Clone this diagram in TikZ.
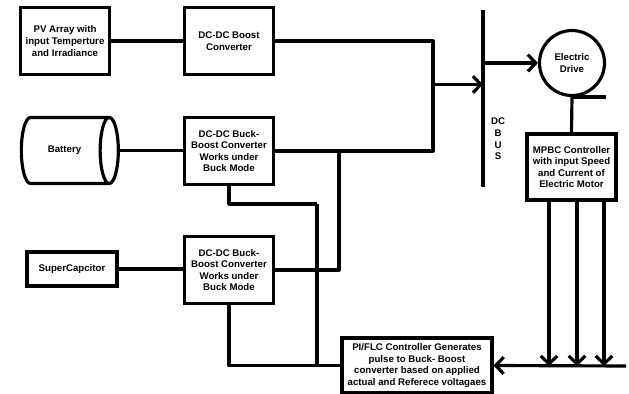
\documentclass[tikz,border=0pt]{standalone}
\usepackage{fontspec}
\setmainfont{Liberation Sans}
\usetikzlibrary{arrows.meta,shapes.geometric}
\tikzset{
  blockbox/.style={draw, line width=1.8pt, align=center, inner sep=0pt, font=\bfseries\fontsize{5.5}{6.6}\selectfont},
  wire/.style={line width=1.8pt, line join=round},
}

\begin{document}
\begin{tikzpicture}[x=0.02cm, y=-0.02cm, >={Straight Barb[length=4.5pt,width=9.5pt]}]
\useasboundingbox (0,0) rectangle (629,394);

% sources and their converters
\node[blockbox, minimum width=1.78cm, minimum height=1.34cm] (pv) at (65,41) {PV Array with\\input Temperture\\and Irradiance};
\node[blockbox, minimum width=1.78cm, minimum height=1.34cm] (boost) at (229,41) {DC-DC Boost\\Converter};
\node[blockbox, cylinder, aspect=2.1, minimum width=1.32cm, minimum height=1.94cm] (battery) at (64.5,150.5) {Battery};
\node[blockbox, minimum width=1.78cm, minimum height=1.34cm] (buckone) at (229,151) {DC-DC Buck-\\Boost Converter\\Works under\\Buck Mode};
\node[blockbox, minimum width=1.8cm, minimum height=0.68cm] (supercap) at (72,269) {SuperCapcitor};
\node[blockbox, minimum width=1.78cm, minimum height=1.34cm] (bucktwo) at (229,270) {DC-DC Buck-\\Boost Converter\\Works under\\Buck Mode};

% drive side
\node[blockbox, circle, minimum size=1.3cm] (drive) at (572,63) {Electric\\Drive};
\node[blockbox, minimum width=1.78cm, minimum height=1.32cm] (mpbc) at (571.5,167) {MPBC Controller\\with input Speed\\and Current of\\Electric Motor};
\node[blockbox, minimum width=3cm, minimum height=1.1cm] (ctrl) at (417,365.5) {PI/FLC Controller Generates\\pulse to Buck- Boost\\converter based on applied\\actual and Referece voltagaes};
\node[font=\bfseries\fontsize{5.5}{6.6}\selectfont, align=center] (buslabel) at (498,139) {DC\\B\\U\\S};

\coordinate (bustop) at (483,10);
\coordinate (busbot) at (483,187);
\coordinate (busin) at (433,84.5);
\coordinate (tap) at (339,151);
\coordinate (feed) at (317,204);
\coordinate (tail) at (606,96);
\coordinate (sensebus) at (626,366);
\coordinate (senseone) at (549,366);
\coordinate (sensetwo) at (577,366);
\coordinate (sensethree) at (604,366);

\draw[wire] (bustop) -- (busbot);
\draw[wire] (pv) -- (boost);
\draw[wire] (boost.east) -| (busin);
\draw[wire] (buckone.east) -| (busin);
\draw[wire, ->] (busin) -- (busin -| bustop);
\draw[wire] (battery.east) -- (battery.east -| buckone.west);
\draw[wire] (supercap) -- (supercap -| bucktwo.west);
\draw[wire] (bucktwo.east) -| (tap);

% feedback from the controller
\draw[wire] (buckone.south) |- (feed);
\draw[wire] (feed) -- (feed |- ctrl.west);
\draw[wire] (bucktwo.south) |- (ctrl.west);
\draw[wire, ->] (sensebus) -- (ctrl.east);
\foreach \s in {senseone,sensetwo,sensethree}
  \draw[wire, ->] (\s |- mpbc.south) -- (\s);

\draw[wire, ->] (bustop |- drive.west) -- (drive.west);
\draw[wire] (drive.south) -- (mpbc.north);
\draw[wire] (drive.south) -- (drive.south -| tail);
\end{tikzpicture}
\end{document}
